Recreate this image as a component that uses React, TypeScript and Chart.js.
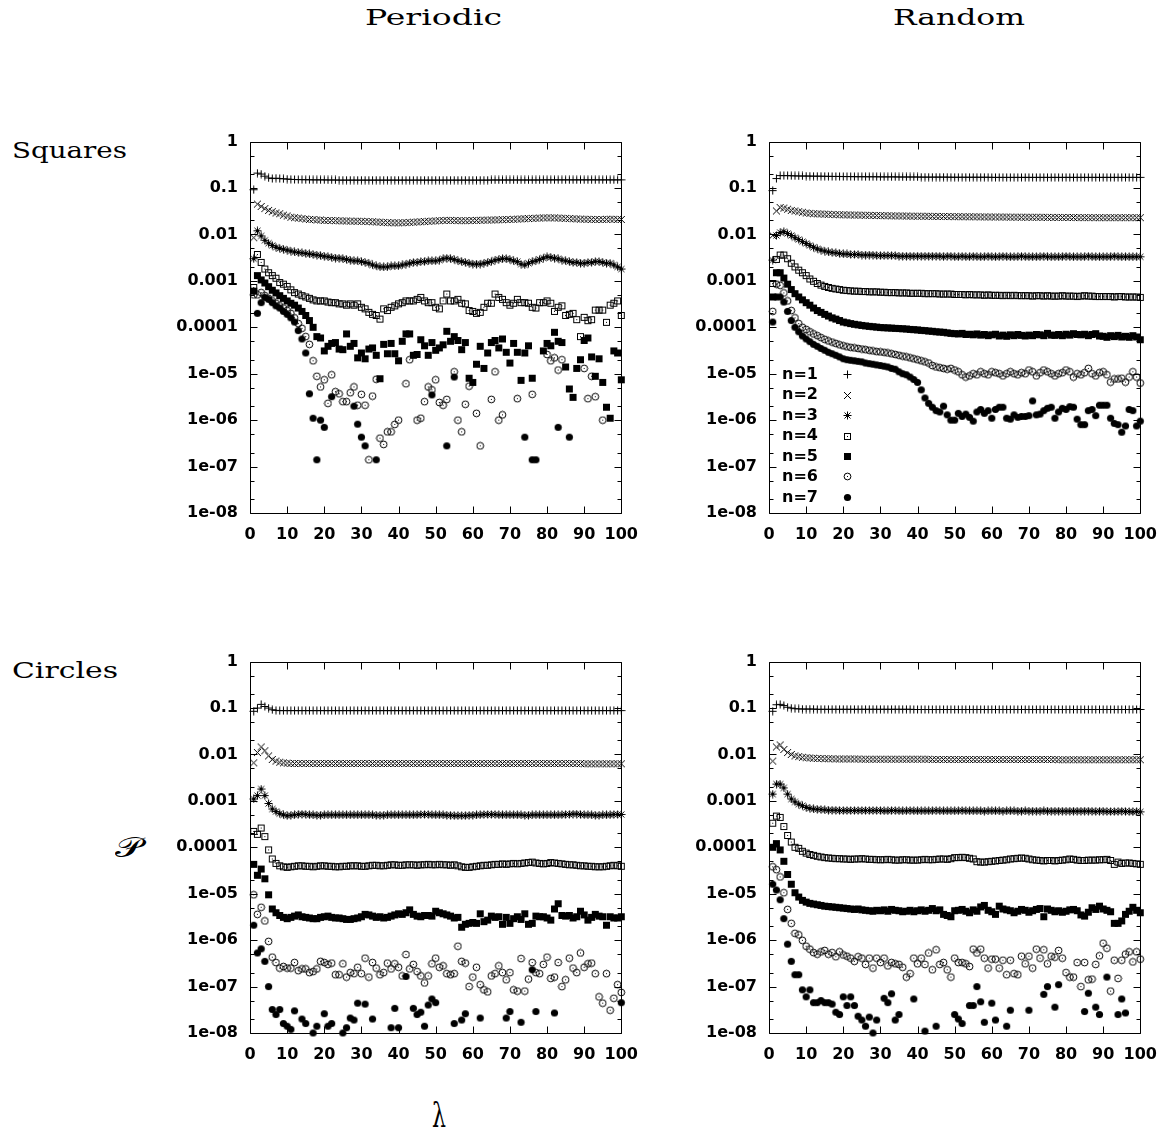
import React, { useEffect, useRef } from "react";
import { Chart, registerables } from "chart.js";
Chart.register(...registerables);

// ---------- categories / ticks ----------
const lambda = [
  1,2,3,4,5,6,7,8,9,10,11,12,13,14,15,16,17,18,19,20,
  21,22,23,24,25,26,27,28,29,30,31,32,33,34,35,36,37,38,39,40,
  41,42,43,44,45,46,47,48,49,50,51,52,53,54,55,56,57,58,59,60,
  61,62,63,64,65,66,67,68,69,70,71,72,73,74,75,76,77,78,79,80,
  81,82,83,84,85,86,87,88,89,90,91,92,93,94,95,96,97,98,99,100];
const xTickValues = [0,10,20,30,40,50,60,70,80,90,100];
const yTickValues = [1e-8,1e-7,1e-6,1e-5,1e-4,1e-3,1e-2,1e-1,1];
const yTickLabels = ["1e-08","1e-07","1e-06","1e-05","0.0001","0.001","0.01","0.1","1"];
const yMinorTicks = [2e-8,5e-8,2e-7,5e-7,2e-6,5e-6,2e-5,5e-5,2e-4,5e-4,2e-3,5e-3,0.02,0.05,0.2,0.5];
const legendLabels = ["n=1","n=2","n=3","n=4","n=5","n=6","n=7"];

// ---------- Squares / Periodic ----------
const sqPer1 = [0.092,0.21,0.2,0.18,0.165,0.16,0.163,0.16,0.158,0.156,
0.154,0.153,0.152,0.152,0.151,0.151,0.15,0.15,0.15,0.15,
0.149,0.149,0.149,0.148,0.148,0.148,0.148,0.148,0.148,0.148,
0.148,0.148,0.148,0.148,0.148,0.148,0.148,0.148,0.148,0.148,
0.148,0.148,0.148,0.148,0.148,0.148,0.148,0.148,0.148,0.148,
0.148,0.148,0.148,0.148,0.148,0.148,0.148,0.148,0.148,0.148,
0.148,0.148,0.148,0.148,0.149,0.149,0.149,0.149,0.149,0.149,
0.149,0.149,0.149,0.149,0.149,0.149,0.149,0.149,0.15,0.15,
0.15,0.15,0.15,0.15,0.15,0.15,0.15,0.15,0.15,0.15,
0.15,0.15,0.15,0.15,0.15,0.15,0.15,0.15,0.15,0.15];
const sqPer2 = [0.0085,0.045,0.04,0.036,0.033,0.031,0.029,0.028,0.026,0.025,
0.0235,0.023,0.0225,0.022,0.0215,0.021,0.021,0.0205,0.0205,0.02,
0.02,0.02,0.0198,0.0197,0.0196,0.0195,0.0194,0.0193,0.0193,0.0192,
0.0191,0.019,0.0188,0.0186,0.0184,0.0182,0.018,0.0179,0.0178,0.0178,
0.0179,0.018,0.0182,0.0184,0.0186,0.0188,0.019,0.0192,0.0194,0.0196,
0.0198,0.02,0.0201,0.0201,0.02,0.0199,0.0198,0.0198,0.0199,0.02,
0.0201,0.0202,0.0203,0.0204,0.0205,0.0206,0.0207,0.0208,0.021,0.021,
0.0212,0.0214,0.0216,0.0218,0.022,0.0222,0.0224,0.0226,0.0228,0.0228,
0.0228,0.0228,0.0226,0.0224,0.0222,0.022,0.0218,0.0216,0.0214,0.0213,
0.0212,0.0211,0.021,0.021,0.021,0.0212,0.0213,0.0212,0.0211,0.021];
const sqPer3 = [0.003,0.012,0.0093,0.0075,0.0065,0.0058,0.0053,0.005,0.0048,0.0046,
0.0044,0.0042,0.0041,0.004,0.0039,0.0038,0.0037,0.0036,0.0035,0.0034,
0.0033,0.0032,0.0031,0.0031,0.003,0.0029,0.0028,0.0027,0.0027,0.0026,
0.0025,0.0024,0.0022,0.0021,0.002,0.002,0.002,0.0021,0.0021,0.0021,
0.0022,0.0023,0.0024,0.0025,0.0025,0.0026,0.0026,0.0027,0.0027,0.0027,
0.0028,0.003,0.0031,0.003,0.0029,0.0027,0.0026,0.0025,0.0024,0.0023,
0.0023,0.0023,0.0024,0.0025,0.0026,0.0028,0.0029,0.003,0.003,0.0029,
0.0027,0.0026,0.0023,0.0022,0.0024,0.0026,0.0027,0.0029,0.0031,0.0033,
0.0032,0.0031,0.003,0.0028,0.0027,0.0026,0.0025,0.0025,0.0024,0.0024,
0.0025,0.0025,0.0026,0.0026,0.0025,0.0024,0.0024,0.0022,0.002,0.0018];
const sqPer4 = [7.2e-4,3.7e-3,2.5e-3,1.8e-3,1.5e-3,1.3e-3,1.14e-3,9.2e-4,8.5e-4,7.6e-4,
6.4e-4,5.6e-4,5.2e-4,4.8e-4,4.5e-4,4.2e-4,3.9e-4,3.7e-4,3.7e-4,3.7e-4,
3.5e-4,3.4e-4,3.4e-4,3.2e-4,3.2e-4,3.0e-4,3.2e-4,3.0e-4,3.2e-4,2.7e-4,
2.5e-4,2.1e-4,1.9e-4,1.8e-4,1.5e-4,2.5e-4,2.3e-4,2.7e-4,2.9e-4,3.2e-4,
3.4e-4,3.7e-4,3.7e-4,3.7e-4,4.0e-4,4.4e-4,3.7e-4,3.4e-4,3.4e-4,2.7e-4,
2.5e-4,3.7e-4,5.2e-4,3.7e-4,3.7e-4,4.0e-4,3.3e-4,3.2e-4,2.3e-4,2.2e-4,
2.0e-4,2.1e-4,2.7e-4,3.3e-4,3.3e-4,5.2e-4,4.4e-4,4.0e-4,3.4e-4,3.0e-4,
3.3e-4,4.0e-4,3.4e-4,3.4e-4,3.3e-4,2.7e-4,2.6e-4,3.4e-4,3.4e-4,3.7e-4,
3.3e-4,2.2e-4,2.7e-4,2.9e-4,1.8e-4,1.9e-4,2.0e-4,1.46e-4,6.3e-5,1.64e-4,
1.39e-4,1.46e-4,2.35e-4,2.35e-4,2.35e-4,1.28e-4,3.0e-4,3.3e-4,3.7e-4,1.8e-4];
const sqPer5 = [6e-4,1.3e-3,1.05e-3,9e-4,7.5e-4,6.3e-4,5.5e-4,4.8e-4,4.2e-4,3.7e-4,
3.3e-4,3e-4,2.6e-4,2.2e-4,1.8e-4,1.4e-4,1e-4,6.3e-5,5.9e-5,3.1e-5,
3.9e-5,4.5e-5,4.7e-5,3.4e-5,3.3e-5,7.2e-5,3.9e-5,4.5e-5,2.2e-5,2.8e-5,
2.1e-5,3.4e-5,3.6e-5,2.5e-5,7.8e-6,4.3e-5,2.7e-5,4.5e-5,2.7e-5,1.9e-5,
5e-5,7.2e-5,7.2e-5,2.5e-5,2.6e-5,5.4e-5,4e-5,2.5e-5,4.7e-5,3.2e-5,
3.6e-5,4.2e-5,8.2e-5,5e-5,6.3e-5,5.2e-5,3.3e-5,4.7e-5,8e-6,6.5e-6,
1.6e-5,3.9e-5,1.3e-5,2.8e-5,4.7e-5,5.2e-5,3.6e-5,5.6e-5,2.9e-5,1.7e-5,
4.5e-5,2.9e-5,7.2e-6,2.8e-5,4e-5,8e-6,null,null,3.1e-5,4.5e-5,
4e-5,7.8e-5,5e-5,4.7e-5,1.4e-5,4.7e-6,3.1e-6,1.3e-5,2e-5,5.2e-5,
5.9e-5,2.3e-5,8.8e-6,2.1e-5,6.5e-6,1.9e-6,1.1e-6,3.1e-5,2.8e-5,7.4e-6];
const sqPer6 = [5e-4,5e-4,5.6e-4,4.8e-4,4.2e-4,3.7e-4,3.3e-4,2.9e-4,2.6e-4,2.3e-4,
2e-4,1.6e-4,1.2e-4,9.5e-5,6.3e-5,4.3e-5,1.9e-5,8.8e-6,5.2e-6,7.4e-6,
2.3e-6,9.5e-6,4.1e-6,3.7e-6,2.5e-6,2.5e-6,3.9e-6,5.2e-6,2.1e-6,3.6e-6,
2.1e-6,1.4e-7,3.3e-6,7.6e-6,4.1e-7,3e-7,5.6e-7,5.6e-7,8.1e-7,1e-6,
null,6.1e-6,2e-5,null,1e-6,1.1e-6,2.5e-6,5.2e-6,4.5e-6,7.4e-6,
2.4e-6,2.1e-6,2.8e-6,null,1.1e-5,1e-6,5.6e-7,2.2e-6,5.4e-6,null,
1.4e-6,2.8e-7,null,null,2.8e-6,1.1e-5,1e-6,1.3e-6,null,null,
null,2.9e-6,null,null,null,3.6e-6,null,null,null,2.6e-5,
1.9e-5,2.2e-5,1.2e-5,2e-5,null,null,null,null,null,1.3e-5,
2.9e-6,8.8e-6,3.2e-6,null,1e-6,null,null,null,null,null];
const sqPer7 = [null,2e-4,3.4e-4,4.4e-4,4e-4,3.4e-4,2.9e-4,2.6e-4,2.2e-4,1.9e-4,
1.6e-4,1.3e-4,8.5e-5,5.6e-5,2.8e-5,3.7e-6,1.1e-6,1.4e-7,1e-6,7e-7,
null,3.2e-6,null,null,null,null,null,2e-6,8.2e-7,4.3e-7,
2.8e-7,null,null,1.4e-7,null,null,null,null,null,null,
null,null,null,null,null,null,null,null,3.5e-6,null,
null,null,2.8e-7,null,8.5e-6,null,null,null,null,null,
null,null,null,null,null,null,null,null,null,null,
null,null,null,4.3e-7,null,1.4e-7,1.4e-7,null,null,null,
null,null,7e-7,null,null,4.3e-7,null,null,null,null,
null,null,null,null,null,null,null,null,null,null];

// ---------- Squares / Random ----------
const sqRnd1 = [0.088,0.16,0.185,0.185,0.185,0.184,0.183,0.182,0.182,0.181,
0.181,0.18,0.18,0.18,0.179,0.179,0.178,0.178,0.178,0.177,
0.177,0.177,0.176,0.176,0.176,0.175,0.175,0.175,0.175,0.174,
0.174,0.174,0.174,0.174,0.173,0.173,0.173,0.173,0.173,0.173,
0.172,0.172,0.172,0.172,0.172,0.172,0.172,0.172,0.171,0.171,
0.171,0.171,0.171,0.171,0.171,0.171,0.171,0.171,0.171,0.17,
0.17,0.17,0.17,0.17,0.17,0.17,0.17,0.17,0.17,0.17,
0.17,0.17,0.17,0.17,0.17,0.17,0.17,0.17,0.17,0.17,
0.17,0.17,0.17,0.17,0.17,0.17,0.17,0.17,0.17,0.17,
0.17,0.17,0.17,0.17,0.17,0.17,0.17,0.17,0.17,0.17];
const sqRnd2 = [0.0095,0.032,0.038,0.037,0.035,0.033,0.032,0.031,0.03,0.029,
0.0285,0.028,0.0278,0.0276,0.0274,0.0272,0.027,0.0268,0.0266,0.0265,
0.0264,0.0263,0.0262,0.0261,0.026,0.0259,0.0258,0.0257,0.0256,0.0255,
0.0254,0.0253,0.0252,0.0251,0.025,0.025,0.0249,0.0248,0.0248,0.0247,
0.0247,0.0246,0.0246,0.0245,0.0245,0.0244,0.0244,0.0243,0.0243,0.0242,
0.0242,0.0241,0.0241,0.024,0.024,0.024,0.0239,0.0239,0.0238,0.0238,
0.0238,0.0237,0.0237,0.0237,0.0236,0.0236,0.0236,0.0235,0.0235,0.0235,
0.0234,0.0234,0.0234,0.0234,0.0233,0.0233,0.0233,0.0233,0.0232,0.0232,
0.0232,0.0232,0.0231,0.0231,0.0231,0.0231,0.0231,0.023,0.023,0.023,
0.023,0.023,0.023,0.023,0.023,0.023,0.023,0.023,0.023,0.023];
const sqRnd3 = [0.0028,0.0095,0.011,0.0115,0.0105,0.0095,0.0085,0.0078,0.007,0.0064,
0.0058,0.0053,0.0049,0.0046,0.0044,0.0042,0.0041,0.004,0.0039,0.0038,
0.0038,0.0037,0.0037,0.0037,0.0036,0.0036,0.0036,0.0036,0.0035,0.0035,
0.0035,0.0035,0.0035,0.0035,0.0034,0.0034,0.0034,0.0034,0.0034,0.0034,
0.0034,0.0034,0.0034,0.0034,0.0034,0.0034,0.0033,0.0034,0.0034,0.0033,
0.0033,0.0034,0.0033,0.0033,0.0034,0.0033,0.0033,0.0033,0.0034,0.0033,
0.0033,0.0033,0.0034,0.0033,0.0033,0.0033,0.0033,0.0034,0.0033,0.0033,
0.0033,0.0033,0.0033,0.0034,0.0033,0.0033,0.0033,0.0033,0.0033,0.0034,
0.0033,0.0033,0.0033,0.0033,0.0033,0.0034,0.0033,0.0033,0.0033,0.0033,
0.0033,0.0033,0.0034,0.0033,0.0033,0.0033,0.0033,0.0033,0.0033,0.0033];
const sqRnd4 = [8.8e-4,0.0029,0.0036,0.0036,0.003,0.0024,0.002,0.0017,0.0015,0.0013,
0.0011,9.8e-4,8.8e-4,8.1e-4,7.6e-4,7.2e-4,6.9e-4,6.7e-4,6.5e-4,6.3e-4,
6.2e-4,6.1e-4,6e-4,6e-4,5.9e-4,5.9e-4,5.8e-4,5.8e-4,5.8e-4,5.7e-4,
5.7e-4,5.6e-4,5.6e-4,5.6e-4,5.5e-4,5.5e-4,5.5e-4,5.4e-4,5.4e-4,5.4e-4,
5.4e-4,5.3e-4,5.3e-4,5.3e-4,5.3e-4,5.2e-4,5.2e-4,5.2e-4,5.2e-4,5.1e-4,
5.1e-4,5.1e-4,5e-4,5.1e-4,5e-4,5e-4,5e-4,4.9e-4,5e-4,4.9e-4,
4.9e-4,4.9e-4,4.8e-4,4.9e-4,4.8e-4,4.9e-4,4.8e-4,4.8e-4,4.8e-4,4.8e-4,
4.7e-4,4.8e-4,4.8e-4,4.7e-4,4.8e-4,4.7e-4,4.7e-4,4.7e-4,4.8e-4,4.7e-4,
4.7e-4,4.7e-4,4.6e-4,4.7e-4,4.8e-4,4.7e-4,4.7e-4,4.6e-4,4.6e-4,4.6e-4,
4.6e-4,4.6e-4,4.5e-4,4.6e-4,4.6e-4,4.5e-4,4.5e-4,4.5e-4,4.5e-4,4.4e-4];
const sqRnd5 = [4.5e-4,1.5e-3,1.5e-3,1.15e-3,8.5e-4,6.5e-4,5.3e-4,4.5e-4,3.9e-4,3.4e-4,
3e-4,2.6e-4,2.3e-4,2.1e-4,1.9e-4,1.75e-4,1.6e-4,1.5e-4,1.4e-4,1.3e-4,
1.25e-4,1.2e-4,1.16e-4,1.13e-4,1.1e-4,1.07e-4,1.05e-4,1.03e-4,1.01e-4,9.9e-5,
9.8e-5,9.7e-5,9.6e-5,9.5e-5,9.4e-5,9.3e-5,9.2e-5,9e-5,8.9e-5,8.8e-5,
8.6e-5,8.5e-5,8.3e-5,8.2e-5,8e-5,7.9e-5,7.8e-5,7.6e-5,7.4e-5,7.3e-5,
7.2e-5,7.4e-5,7e-5,7.1e-5,6.9e-5,7.2e-5,6.8e-5,7e-5,6.6e-5,6.9e-5,
7.1e-5,6.5e-5,6.8e-5,6.4e-5,6.9e-5,6.6e-5,7e-5,6.7e-5,6.5e-5,6.8e-5,
6.6e-5,7e-5,6.9e-5,6.6e-5,7.4e-5,6.8e-5,6.7e-5,7e-5,6.6e-5,7.1e-5,
6.8e-5,7.3e-5,7e-5,6.9e-5,7.1e-5,6.6e-5,7e-5,7.3e-5,6.5e-5,6.4e-5,
6.1e-5,6.6e-5,6.3e-5,6.7e-5,6.2e-5,6.4e-5,6.1e-5,6.6e-5,6.2e-5,5.4e-5];
const sqRnd6 = [2.2e-4,8.5e-4,8e-4,5.5e-4,3.7e-4,2.3e-4,1.6e-4,1.2e-4,1e-4,9e-5,
8e-5,7.2e-5,6.6e-5,6e-5,5.5e-5,5.1e-5,4.8e-5,4.5e-5,4.2e-5,4e-5,
3.8e-5,3.7e-5,3.6e-5,3.5e-5,3.4e-5,3.3e-5,3.2e-5,3.1e-5,3e-5,2.95e-5,
2.9e-5,2.8e-5,2.7e-5,2.6e-5,2.5e-5,2.4e-5,2.3e-5,2.2e-5,2.1e-5,2e-5,
1.9e-5,1.8e-5,1.7e-5,1.5e-5,1.4e-5,1.35e-5,1.3e-5,1.25e-5,1.3e-5,1.2e-5,
1.1e-5,9.5e-6,8.5e-6,9e-6,1e-5,9.5e-6,1.1e-5,1e-5,9.5e-6,1.1e-5,
1.05e-5,1e-5,9e-6,1e-5,1.1e-5,1e-5,9.5e-6,1.05e-5,1e-5,1.2e-5,
1.1e-5,9e-6,1.05e-5,1.2e-5,1.1e-5,1e-5,9e-6,1e-5,1.05e-5,1.2e-5,
1.1e-5,8.5e-6,1e-5,9.5e-6,1.05e-5,1.3e-5,1e-5,9e-6,1.05e-5,1.1e-5,
9.5e-6,6.6e-6,7.7e-6,7.7e-6,8e-6,6.6e-6,8.5e-6,1.1e-5,8.5e-6,6.3e-6];
const sqRnd7 = [1.3e-4,4.5e-4,4.5e-4,3.5e-4,2.2e-4,1.4e-4,1e-4,8e-5,6.5e-5,5.6e-5,
4.9e-5,4.3e-5,3.9e-5,3.5e-5,3.2e-5,2.9e-5,2.7e-5,2.5e-5,2.3e-5,2.1e-5,
2e-5,1.95e-5,1.9e-5,1.85e-5,1.8e-5,1.7e-5,1.65e-5,1.6e-5,1.55e-5,1.5e-5,
1.45e-5,1.4e-5,1.3e-5,1.25e-5,1.1e-5,1e-5,9.5e-6,8.5e-6,7.5e-6,6.5e-6,
4.5e-6,3e-6,2.3e-6,1.9e-6,1.6e-6,1.5e-6,2e-6,1.3e-6,1e-6,1e-6,
1.4e-6,1.2e-6,1.35e-6,1.15e-6,9.5e-7,1.5e-6,1.7e-6,1.4e-6,1.6e-6,1.1e-6,
1.7e-6,1.9e-6,1.9e-6,1.1e-6,1.05e-6,1.3e-6,1.15e-6,1.2e-6,1.2e-6,1.25e-6,
2.6e-6,1.3e-6,1.35e-6,1.6e-6,1.8e-6,1.9e-6,1.1e-6,1.5e-6,1.8e-6,1.7e-6,
1.95e-6,1.9e-6,1.05e-6,8e-7,8e-7,1.6e-6,1.7e-6,1.25e-6,2.1e-6,2.1e-6,
2.1e-6,1.1e-6,8.5e-7,8e-7,5.5e-7,7.5e-7,1.7e-6,1.6e-6,7.5e-7,9.5e-7];

// ---------- Circles / Periodic ----------
const ciPer1 = [0.085,0.1,0.12,0.108,0.1,0.092,0.089,0.088,0.088,0.088,
0.088,0.088,0.088,0.088,0.088,0.088,0.088,0.088,0.088,0.088,
0.088,0.088,0.088,0.088,0.088,0.088,0.088,0.088,0.088,0.088,
0.088,0.088,0.088,0.088,0.088,0.088,0.088,0.088,0.088,0.088,
0.088,0.088,0.088,0.088,0.088,0.088,0.088,0.088,0.088,0.088,
0.088,0.088,0.088,0.088,0.088,0.088,0.088,0.088,0.088,0.088,
0.088,0.088,0.088,0.088,0.088,0.088,0.088,0.088,0.088,0.088,
0.088,0.088,0.088,0.088,0.088,0.088,0.088,0.088,0.088,0.088,
0.088,0.088,0.088,0.088,0.088,0.088,0.088,0.088,0.088,0.088,
0.088,0.088,0.088,0.088,0.088,0.088,0.088,0.088,0.088,0.088];
const ciPer2 = [0.0066,0.011,0.0145,0.012,0.0093,0.0078,0.0072,0.0068,0.0066,0.0065,
0.0064,0.0064,0.0064,0.0064,0.0064,0.0064,0.0064,0.0064,0.0064,0.0064,
0.0064,0.0064,0.0064,0.0064,0.0064,0.0064,0.0064,0.0064,0.0064,0.0064,
0.0064,0.0064,0.0064,0.0064,0.0064,0.0064,0.0064,0.0064,0.0064,0.0064,
0.0064,0.0064,0.0064,0.0064,0.0064,0.0064,0.0064,0.0064,0.0064,0.0064,
0.0064,0.0064,0.0064,0.0064,0.0064,0.0064,0.0064,0.0064,0.0064,0.0064,
0.0064,0.0064,0.0064,0.0064,0.0064,0.0064,0.0064,0.0064,0.0064,0.0064,
0.0064,0.0064,0.0064,0.0064,0.0064,0.0064,0.0064,0.0064,0.0064,0.0064,
0.0064,0.0064,0.0064,0.0064,0.0064,0.0064,0.0064,0.0064,0.0064,0.0063,
0.0063,0.0063,0.0063,0.0063,0.0063,0.0063,0.0063,0.0063,0.0063,0.0063];
const ciPer3 = [0.0011,0.0013,0.0018,0.0013,8.8e-4,6.7e-4,5.9e-4,5.3e-4,5e-4,4.8e-4,
4.9e-4,5e-4,5.1e-4,5.2e-4,5.1e-4,5e-4,5e-4,4.9e-4,4.9e-4,5e-4,
5e-4,5e-4,5e-4,5e-4,5e-4,5e-4,5e-4,5e-4,5e-4,5e-4,
5e-4,5e-4,5e-4,4.9e-4,4.9e-4,4.9e-4,5e-4,5e-4,5e-4,5e-4,
5e-4,5e-4,5e-4,5e-4,5e-4,5.1e-4,5.1e-4,5.1e-4,5e-4,5e-4,
5e-4,5e-4,4.9e-4,4.9e-4,4.8e-4,4.8e-4,4.8e-4,4.8e-4,4.9e-4,4.9e-4,
5e-4,5e-4,5.1e-4,5.1e-4,5.1e-4,5.1e-4,5e-4,5e-4,5e-4,5e-4,
5e-4,5e-4,5e-4,4.9e-4,4.9e-4,5e-4,5e-4,5e-4,5e-4,5e-4,
5e-4,5e-4,5e-4,5e-4,5.1e-4,5.1e-4,5.2e-4,5.2e-4,5.1e-4,5e-4,
5e-4,5e-4,4.9e-4,4.9e-4,5e-4,5e-4,5e-4,5.1e-4,5.1e-4,5.1e-4];
const ciPer4 = [2.2e-4,1.9e-4,2.6e-4,1.7e-4,8.8e-5,5.6e-5,4.5e-5,4e-5,3.8e-5,3.7e-5,
3.8e-5,3.9e-5,4e-5,4e-5,3.9e-5,3.9e-5,3.8e-5,3.9e-5,4e-5,4e-5,
3.9e-5,3.9e-5,3.8e-5,3.8e-5,3.9e-5,3.9e-5,4e-5,4e-5,4e-5,3.9e-5,
3.9e-5,4e-5,4.1e-5,4.1e-5,4e-5,4e-5,4.1e-5,4.2e-5,4.2e-5,4.1e-5,
4.1e-5,4.2e-5,4.2e-5,4.2e-5,4.1e-5,4.2e-5,4.2e-5,4.3e-5,4.2e-5,4.2e-5,
4.3e-5,4.2e-5,4.2e-5,4.1e-5,4.2e-5,4e-5,3.8e-5,3.7e-5,3.7e-5,3.8e-5,
3.9e-5,4e-5,4.1e-5,4.1e-5,4.2e-5,4.3e-5,4.3e-5,4.4e-5,4.3e-5,4.4e-5,
4.5e-5,4.4e-5,4.5e-5,4.6e-5,4.7e-5,4.8e-5,4.6e-5,4.5e-5,4.4e-5,4.5e-5,
4.7e-5,4.6e-5,4.5e-5,4.4e-5,4.3e-5,4.2e-5,4.2e-5,4.1e-5,4e-5,4e-5,
3.9e-5,3.9e-5,3.8e-5,3.8e-5,3.8e-5,3.9e-5,4e-5,4.1e-5,4e-5,3.9e-5];
const ciPer5 = [4.3e-5,2.5e-5,3.4e-5,2.1e-5,9.5e-6,4.7e-6,3.9e-6,3.4e-6,3.1e-6,2.9e-6,
3.1e-6,3.3e-6,3.5e-6,3.2e-6,3.1e-6,3e-6,2.9e-6,2.9e-6,3.1e-6,3.2e-6,
3.3e-6,3.1e-6,3e-6,3e-6,2.9e-6,2.8e-6,2.8e-6,2.9e-6,3e-6,3.2e-6,
3.6e-6,3.5e-6,3.3e-6,3.1e-6,3.2e-6,3e-6,3.1e-6,3.3e-6,3.5e-6,3.7e-6,
3.6e-6,3.9e-6,4.5e-6,3.6e-6,3.3e-6,3.2e-6,3.4e-6,3.4e-6,3.3e-6,4.2e-6,
3.9e-6,3.7e-6,3.5e-6,3.3e-6,3e-6,3.1e-6,1.9e-6,2.2e-6,2.3e-6,2.4e-6,
2.3e-6,3.7e-6,2.5e-6,2.7e-6,3.3e-6,3.1e-6,3.2e-6,2.2e-6,3.1e-6,2.3e-6,
2.9e-6,3.2e-6,2.8e-6,3.7e-6,2.2e-6,2.3e-6,3.3e-6,3.2e-6,3.2e-6,3e-6,
2.7e-6,4.7e-6,6.1e-6,3.4e-6,3.3e-6,3.4e-6,3e-6,3.2e-6,4.2e-6,3.5e-6,
2.7e-6,3.1e-6,3.6e-6,3.3e-6,3.2e-6,2.1e-6,3.2e-6,3e-6,3e-6,3.2e-6];
const ciPer6 = [9.5e-6,3.6e-6,5.1e-6,2.6e-6,9.4e-7,4.3e-7,3.3e-7,2.5e-7,2.7e-7,2.5e-7,
2.5e-7,3.3e-7,2.2e-7,2.4e-7,2.4e-7,2e-7,2.1e-7,2.4e-7,3.5e-7,3.3e-7,
3e-7,3.2e-7,1.8e-7,1.8e-7,3.1e-7,1.6e-7,2e-7,1.9e-7,2.6e-7,1.9e-7,
4.1e-7,1.6e-7,3.3e-7,2.5e-7,1.8e-7,2e-7,3.2e-7,2.4e-7,3.1e-7,2.6e-7,
1.7e-7,4.9e-7,2.4e-7,3e-7,2.1e-7,1.7e-7,1.2e-7,1.7e-7,3.1e-7,4.1e-7,
2.6e-7,2.8e-7,1.9e-7,1.8e-7,1.9e-7,7.4e-7,3.5e-7,3.2e-7,1e-7,1.6e-7,
2.6e-7,1.1e-7,8.5e-8,7.7e-8,1.7e-7,1.9e-7,2.8e-7,2e-7,1.4e-7,2e-7,
8.5e-8,8e-8,4e-7,8e-8,1.45e-7,3.3e-7,2e-7,1.9e-7,3e-7,4.3e-7,
1.5e-7,1.6e-7,3.3e-7,1e-7,1.4e-7,4.1e-7,2.5e-7,2e-7,5.3e-7,2.6e-7,
3.1e-7,3.2e-7,1.9e-7,6e-8,4.4e-8,1.9e-7,3.1e-8,5.6e-8,1.1e-7,7.5e-8];
const ciPer7 = [2.1e-6,5.3e-7,6.5e-7,3.5e-7,1e-7,3.2e-8,2.5e-8,3.2e-8,1.6e-8,1.4e-8,
1.2e-8,3e-8,null,2e-8,1.6e-8,null,1e-8,1.4e-8,null,2.6e-8,
1.4e-8,1.6e-8,null,null,1e-8,1.3e-8,2.1e-8,1.9e-8,4.4e-8,null,
4.2e-8,null,2e-8,null,null,null,null,1.3e-8,3.4e-8,1.3e-8,
null,1.65e-7,null,3.4e-8,2.5e-8,2.8e-8,1.4e-8,4e-8,5.4e-8,4.5e-8,
null,null,null,null,1.6e-8,null,1.9e-8,2.6e-8,null,null,
null,2.1e-8,null,null,null,null,null,null,2.1e-8,2.9e-8,
null,null,1.7e-8,null,null,2.3e-7,2.9e-8,null,null,null,
null,2.7e-8,null,null,null,null,null,null,null,null,
null,null,null,null,null,null,null,null,null,4.5e-8];

// ---------- Circles / Random ----------
const ciRnd1 = [0.085,0.118,0.12,0.113,0.104,0.1,0.097,0.096,0.095,0.095,
0.095,0.095,0.094,0.094,0.094,0.094,0.094,0.094,0.094,0.094,
0.094,0.094,0.094,0.094,0.094,0.094,0.094,0.094,0.094,0.094,
0.094,0.094,0.094,0.094,0.094,0.094,0.094,0.094,0.093,0.093,
0.093,0.093,0.093,0.093,0.093,0.093,0.093,0.093,0.093,0.093,
0.093,0.093,0.093,0.093,0.093,0.093,0.093,0.093,0.093,0.093,
0.093,0.093,0.093,0.093,0.093,0.093,0.093,0.093,0.093,0.093,
0.093,0.093,0.093,0.093,0.093,0.093,0.093,0.093,0.093,0.093,
0.093,0.093,0.093,0.093,0.093,0.093,0.093,0.093,0.093,0.093,
0.093,0.093,0.093,0.093,0.093,0.093,0.093,0.093,0.093,0.093];
const ciRnd2 = [0.0072,0.0145,0.016,0.0128,0.011,0.01,0.0093,0.009,0.0087,0.0085,
0.0084,0.0083,0.0082,0.0082,0.0081,0.0081,0.0081,0.008,0.008,0.008,
0.008,0.008,0.008,0.008,0.0079,0.0079,0.0079,0.0079,0.0079,0.0079,
0.0079,0.0079,0.0079,0.0079,0.0079,0.0079,0.0079,0.0079,0.0079,0.0079,
0.0079,0.0079,0.0079,0.0078,0.0078,0.0078,0.0078,0.0078,0.0078,0.0078,
0.0078,0.0078,0.0078,0.0078,0.0078,0.0078,0.0078,0.0078,0.0078,0.0078,
0.0078,0.0078,0.0078,0.0078,0.0078,0.0078,0.0078,0.0078,0.0078,0.0078,
0.0078,0.0078,0.0078,0.0078,0.0078,0.0078,0.0078,0.0077,0.0077,0.0077,
0.0077,0.0077,0.0077,0.0077,0.0077,0.0077,0.0077,0.0077,0.0077,0.0077,
0.0077,0.0077,0.0077,0.0077,0.0077,0.0077,0.0077,0.0077,0.0077,0.0077];
const ciRnd3 = [0.0014,0.0023,0.0023,0.0019,0.0014,0.0011,9.5e-4,8.5e-4,7.9e-4,7.2e-4,
6.9e-4,6.7e-4,6.6e-4,6.5e-4,6.4e-4,6.3e-4,6.3e-4,6.3e-4,6.2e-4,6.2e-4,
6.2e-4,6.2e-4,6.2e-4,6.2e-4,6.2e-4,6.2e-4,6.2e-4,6.2e-4,6.2e-4,6.2e-4,
6.1e-4,6.1e-4,6.2e-4,6.2e-4,6.1e-4,6.1e-4,6.1e-4,6.2e-4,6.1e-4,6.1e-4,
6.1e-4,6.1e-4,6.1e-4,6.1e-4,6.2e-4,6.1e-4,6.1e-4,6.1e-4,6.1e-4,6.1e-4,
6.1e-4,6.2e-4,6.1e-4,6.1e-4,6.1e-4,6.1e-4,6.1e-4,6e-4,6.1e-4,6.1e-4,
6.1e-4,6.1e-4,6e-4,6.1e-4,6.1e-4,6.1e-4,6e-4,6e-4,6.1e-4,6e-4,
6e-4,6e-4,6e-4,6.1e-4,6e-4,6e-4,6e-4,6e-4,6e-4,6e-4,
6e-4,6e-4,6e-4,6e-4,6e-4,6e-4,6e-4,5.9e-4,6e-4,6e-4,
5.9e-4,5.9e-4,5.9e-4,5.9e-4,6e-4,5.9e-4,5.9e-4,5.8e-4,5.9e-4,5.8e-4];
const ciRnd4 = [3.3e-4,4.7e-4,4.4e-4,2.8e-4,1.8e-4,1.3e-4,1e-4,9.5e-5,8.2e-5,7.5e-5,
7e-5,6.7e-5,6.4e-5,6.2e-5,6e-5,5.9e-5,5.8e-5,5.7e-5,5.7e-5,5.6e-5,
5.6e-5,5.5e-5,5.6e-5,5.6e-5,5.7e-5,5.6e-5,5.5e-5,5.5e-5,5.4e-5,5.4e-5,
5.4e-5,5.5e-5,5.4e-5,5.3e-5,5.3e-5,5.4e-5,5.4e-5,5.3e-5,5.3e-5,5.3e-5,
5.4e-5,5.5e-5,5.4e-5,5.4e-5,5.5e-5,5.6e-5,5.6e-5,5.5e-5,5.7e-5,6e-5,
6e-5,6.1e-5,6e-5,5.8e-5,5.6e-5,4.9e-5,4.8e-5,4.8e-5,4.9e-5,5e-5,
5.1e-5,5.2e-5,5.3e-5,5.4e-5,5.6e-5,5.7e-5,5.8e-5,5.9e-5,5.8e-5,5.6e-5,
5.4e-5,5.3e-5,5.2e-5,5.1e-5,5.2e-5,5.2e-5,5.1e-5,5.2e-5,5.3e-5,5.4e-5,
5.6e-5,5.5e-5,5.3e-5,5.2e-5,5.2e-5,5.3e-5,5.3e-5,5.3e-5,5.4e-5,5.4e-5,
5.5e-5,5.2e-5,4.3e-5,4.8e-5,4.5e-5,4.6e-5,4.6e-5,4.5e-5,4.4e-5,4.3e-5];
const ciRnd5 = [1e-4,1.2e-4,8.8e-5,5e-5,2.6e-5,1.6e-5,1.05e-5,8.5e-6,7.2e-6,6.6e-6,
6.2e-6,6e-6,5.8e-6,5.6e-6,5.4e-6,5.3e-6,5.2e-6,5.1e-6,5e-6,4.9e-6,
4.8e-6,4.7e-6,4.6e-6,4.7e-6,4.5e-6,4.4e-6,4.3e-6,4.2e-6,4.4e-6,4.3e-6,
4.5e-6,4.2e-6,4.6e-6,4.4e-6,4.3e-6,4.1e-6,4.2e-6,4.4e-6,4.1e-6,4.3e-6,
4.5e-6,4.2e-6,4.4e-6,4.8e-6,4.3e-6,4.5e-6,3.6e-6,3.4e-6,3.2e-6,4.3e-6,
4.4e-6,4.6e-6,4.2e-6,3.9e-6,4.5e-6,4.2e-6,5.2e-6,5.6e-6,4.4e-6,4.1e-6,
3.6e-6,5.4e-6,4.7e-6,4.5e-6,4.3e-6,3.9e-6,4.2e-6,4.6e-6,4.4e-6,4e-6,
4.3e-6,4.6e-6,4.8e-6,3.2e-6,4.7e-6,4.4e-6,4.1e-6,4.3e-6,4e-6,4.2e-6,
4.5e-6,4.6e-6,4.3e-6,3.5e-6,3.3e-6,4e-6,5e-6,4.6e-6,5.4e-6,4.7e-6,
4.4e-6,4.1e-6,2.3e-6,2.3e-6,2.6e-6,3.6e-6,4.2e-6,5.1e-6,4.4e-6,3.9e-6];
const ciRnd6 = [3.8e-5,3.3e-5,2.3e-5,1.05e-5,4.6e-6,2.3e-6,1.4e-6,1.3e-6,9.9e-7,7.4e-7,
6.4e-7,5.4e-7,5e-7,5.6e-7,6e-7,5e-7,5.4e-7,4.4e-7,5.6e-7,4.8e-7,
4.5e-7,4.1e-7,3.5e-7,4.4e-7,4.1e-7,3e-7,4.1e-7,2.5e-7,4.1e-7,3.3e-7,
4.1e-7,2.8e-7,3.3e-7,3.1e-7,3e-7,2.6e-7,1.6e-7,1.9e-7,4.1e-7,3.1e-7,
4.1e-7,3e-7,5.3e-7,2.3e-7,6.2e-7,3e-7,3.3e-7,2.3e-7,1.6e-7,4.1e-7,
3.3e-7,3.3e-7,3.1e-7,2.7e-7,6.4e-7,5.3e-7,6.4e-7,4.1e-7,2.5e-7,3.9e-7,
3.9e-7,2.5e-7,3.7e-7,1.8e-7,3.7e-7,1.9e-7,1.8e-7,4.5e-7,3.1e-7,4.5e-7,
2.5e-7,6.4e-7,4.1e-7,6.2e-7,3.1e-7,4.5e-7,4.3e-7,6e-7,4.1e-7,2e-7,
1.6e-7,1.6e-7,3.3e-7,1e-7,3.3e-7,1.4e-7,1.45e-7,3e-7,4.6e-7,8.6e-7,
6.7e-7,8e-8,3.7e-7,1.5e-7,3.7e-7,5e-7,5.6e-7,3.4e-7,5.6e-7,3.9e-7];
const ciRnd7 = [1.6e-5,1.2e-5,7.4e-6,2.9e-6,8.2e-7,3.5e-7,1.8e-7,1.8e-7,8.5e-8,6e-8,
8.5e-8,4.5e-8,4.5e-8,5e-8,4.5e-8,4.5e-8,4.2e-8,2.8e-8,2.5e-8,6e-8,
3.9e-8,6e-8,3.9e-8,2.3e-8,1.9e-8,1.4e-8,2.2e-8,1e-8,1.9e-8,null,
5.6e-8,4.5e-8,7e-8,1.9e-8,2.5e-8,null,null,null,5.4e-8,null,
null,1.1e-8,null,null,1.4e-8,null,null,null,null,2.5e-8,
2e-8,1.6e-8,null,3.9e-8,3.9e-8,1e-7,4.7e-8,1.7e-8,null,4.4e-8,
1.9e-8,null,null,1.4e-8,3.1e-8,null,null,null,null,3.1e-8,
null,null,null,6.8e-8,1e-7,null,3.6e-8,1.1e-7,null,null,
null,null,null,null,2.9e-8,7.2e-8,null,3.6e-8,2.5e-8,null,
1.6e-7,null,null,2.5e-8,5.4e-8,2.7e-8,null,null,null,null];

// ---------- drawing helpers ----------
type Kind = "plus" | "cross" | "star" | "box" | "fbox" | "circ" | "fcirc";
const markerKinds: Kind[] = ["plus", "cross", "star", "box", "fbox", "circ", "fcirc"];

function makeMarker(kind: Kind): HTMLCanvasElement {
  const c = document.createElement("canvas");
  c.width = 9;
  c.height = 9;
  const g = c.getContext("2d")!;
  g.strokeStyle = "#000";
  g.fillStyle = "#000";
  g.lineWidth = 1;
  const line = (x1: number, y1: number, x2: number, y2: number) => {
    g.beginPath();
    g.moveTo(x1, y1);
    g.lineTo(x2, y2);
    g.stroke();
  };
  if (kind === "plus") { line(0.5, 4.5, 8.5, 4.5); line(4.5, 0.5, 4.5, 8.5); }
  if (kind === "cross") { line(1, 1, 8, 8); line(8, 1, 1, 8); }
  if (kind === "star") { line(0.5, 4.5, 8.5, 4.5); line(4.5, 0.5, 4.5, 8.5); line(1.5, 1.5, 7.5, 7.5); line(7.5, 1.5, 1.5, 7.5); }
  if (kind === "box") { g.strokeRect(1.5, 1.5, 6, 6); g.fillRect(4, 4, 1, 1); }
  if (kind === "fbox") { g.fillRect(1, 1, 7, 7); }
  if (kind === "circ") { g.beginPath(); g.arc(4.5, 4.5, 3.4, 0, Math.PI * 2); g.stroke(); g.fillRect(4, 4, 1, 1); }
  if (kind === "fcirc") { g.beginPath(); g.arc(4.5, 4.5, 3.6, 0, Math.PI * 2); g.fill(); }
  return c;
}

const TICK_FONT = { family: "'DejaVu Sans', sans-serif", weight: "bold" as const, size: 16 };

const framePlugin = {
  id: "gpFrame",
  beforeDatasetsDraw(chart: any) {
    const { ctx, chartArea: a, scales } = chart;
    const L = Math.round(a.left) + 0.5, R = Math.round(a.right) + 0.5;
    const T = Math.round(a.top) + 0.5, B = Math.round(a.bottom) + 0.5;
    ctx.save();
    ctx.strokeStyle = "#000";
    ctx.lineWidth = 1;
    ctx.beginPath();
    ctx.rect(L, T, R - L, B - T);
    xTickValues.forEach((v) => {
      const px = Math.round(scales.x.getPixelForValue(v)) + 0.5;
      ctx.moveTo(px, B); ctx.lineTo(px, B - 7);
      ctx.moveTo(px, T); ctx.lineTo(px, T + 7);
    });
    yTickValues.forEach((v) => {
      const py = Math.round(scales.y.getPixelForValue(v)) + 0.5;
      ctx.moveTo(L, py); ctx.lineTo(L + 7, py);
      ctx.moveTo(R, py); ctx.lineTo(R - 7, py);
    });
    yMinorTicks.forEach((v) => {
      const py = Math.round(scales.y.getPixelForValue(v)) + 0.5;
      ctx.moveTo(L, py); ctx.lineTo(L + 4, py);
      ctx.moveTo(R, py); ctx.lineTo(R - 4, py);
    });
    ctx.stroke();
    ctx.restore();
  },
};

function makeLegendPlugin(markers: HTMLCanvasElement[]) {
  return {
    id: "gpLegend",
    afterDatasetsDraw(chart: any) {
      const { ctx, chartArea: a } = chart;
      ctx.save();
      ctx.font = "bold 16px 'DejaVu Sans', sans-serif";
      ctx.fillStyle = "#000";
      ctx.textAlign = "left";
      ctx.textBaseline = "middle";
      legendLabels.forEach((lab, i) => {
        const y = a.bottom - 15.6 - (legendLabels.length - 1 - i) * 20.45;
        ctx.fillText(lab, a.left + 13, y);
        const m = markers[i];
        ctx.drawImage(m, Math.round(a.left + 78 - m.width / 2), Math.round(y - m.height / 2));
      });
      ctx.restore();
    },
  };
}

type PanelProps = { series: (number | null)[][]; left: number; top: number; legend?: boolean };

function Panel({ series, left, top, legend }: PanelProps) {
  const ref = useRef<HTMLCanvasElement>(null);
  useEffect(() => {
    const markers = markerKinds.map(makeMarker);
    const datasets = series.map((vals, i) => ({
      label: legendLabels[i],
      data: vals
        .map((v, j) => ({ x: lambda[j], y: v }))
        .filter((p) => p.y !== null) as { x: number; y: number }[],
      pointStyle: markers[i] as any,
      pointRadius: 4,
      showLine: false,
      clip: false as any,
      order: series.length - 1 - i,
    }));
    const plugins: any[] = [framePlugin];
    if (legend) plugins.push(makeLegendPlugin(markers));
    const chart = new Chart(ref.current!, {
      type: "scatter",
      data: { datasets },
      options: {
        animation: false,
        responsive: false,
        devicePixelRatio: 1,
        events: [],
        layout: { padding: { top: 20, right: 25, left: 0, bottom: 0 } },
        plugins: { legend: { display: false }, tooltip: { enabled: false } },
        scales: {
          x: {
            type: "linear",
            min: 0,
            max: 100,
            afterBuildTicks: (s: any) => { s.ticks = xTickValues.map((v) => ({ value: v })); },
            afterFit: (s: any) => { s.height = 47; },
            grid: { display: false, drawTicks: false },
            border: { display: false },
            ticks: { font: TICK_FONT, color: "#000", padding: 12, maxRotation: 0, autoSkip: false },
          },
          y: {
            type: "logarithmic",
            min: 1e-8,
            max: 1,
            afterBuildTicks: (s: any) => { s.ticks = yTickValues.map((v) => ({ value: v })); },
            afterFit: (s: any) => { s.width = 80; },
            grid: { display: false, drawTicks: false },
            border: { display: false },
            ticks: {
              font: TICK_FONT,
              color: "#000",
              padding: 12,
              autoSkip: false,
              callback: (_v: any, i: number) => yTickLabels[i],
            },
          },
        },
      },
      plugins,
    });
    return () => chart.destroy();
  }, []);
  return (
    <canvas
      ref={ref}
      width={480}
      height={440}
      style={{ position: "absolute", left, top, width: 480, height: 440 }}
    />
  );
}

const SERIF = "'DejaVu Serif', serif";

function measure(text: string, font: string) {
  const c = document.createElement("canvas").getContext("2d")!;
  c.font = font;
  return c.measureText(text).width;
}

function Label({ text, left, top, width, size, italic }: { text: string; left: number; top: number; width: number; size: number; italic?: boolean }) {
  const font = `${italic ? "italic " : ""}${size}px ${SERIF}`;
  const sx = width / measure(text, font);
  return (
    <div
      style={{
        position: "absolute",
        left,
        top,
        fontFamily: SERIF,
        fontStyle: italic ? "italic" : "normal",
        fontSize: size,
        lineHeight: 1,
        whiteSpace: "nowrap",
        transform: `scaleX(${sx})`,
        transformOrigin: "left top",
        color: "#000",
      }}
    >
      {text}
    </div>
  );
}

export default function App() {
  return (
    <div style={{ position: "absolute", left: 0, top: 0, width: 1170, height: 1130, overflow: "hidden", background: "#fff" }}>
      <Label text="Periodic" left={365} top={6} width={137} size={23} />
      <Label text="Random" left={893} top={6} width={132} size={23} />
      <Label text="Squares" left={12} top={139} width={115} size={23} />
      <Label text="Circles" left={12} top={659} width={106} size={23} />
      <Label text="𝒫" left={115} top={834} width={27} size={28} />
      <Label text="λ" left={432} top={1099} width={14} size={33} />
      <Panel series={[sqPer1, sqPer2, sqPer3, sqPer4, sqPer5, sqPer6, sqPer7]} left={170} top={120} />
      <Panel series={[sqRnd1, sqRnd2, sqRnd3, sqRnd4, sqRnd5, sqRnd6, sqRnd7]} left={689} top={120} legend />
      <Panel series={[ciPer1, ciPer2, ciPer3, ciPer4, ciPer5, ciPer6, ciPer7]} left={170} top={640} />
      <Panel series={[ciRnd1, ciRnd2, ciRnd3, ciRnd4, ciRnd5, ciRnd6, ciRnd7]} left={689} top={640} />
    </div>
  );
}
